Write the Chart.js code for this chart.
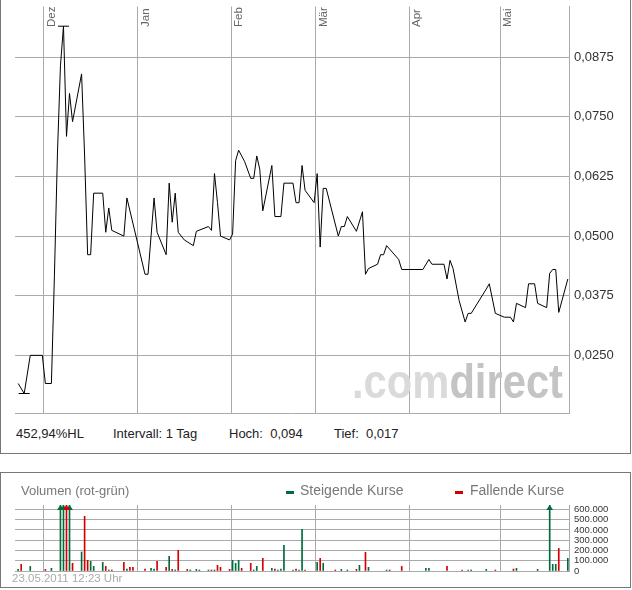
<!DOCTYPE html>
<html>
<head>
<meta charset="utf-8">
<script src="https://cdn.jsdelivr.net/npm/chart.js@4.4.0/dist/chart.umd.min.js"></script>
<style>
  body { margin: 0; background: #fff; font-family: 'Liberation Sans', Arial, sans-serif; }
  .box { position: absolute; left: 0; width: 629px; border: 1px solid #777; }
  canvas { position: absolute; left: 0; }
  .t { position: absolute; white-space: pre; line-height: 15px; font-size: 13px; }
  .lg { font-size: 14px; }
  .dash { position: absolute; width: 8px; height: 3px; }
</style>
</head>
<body>
<div class="box" style="top:-1px;height:453px"></div>
<div class="box" style="top:472px;height:114px"></div>

<canvas id="priceChart" width="630" height="420" style="top:0"></canvas>
<div class="t" id="hlText" style="left:16px;top:426px;color:#222"></div>
<div class="t" style="left:113px;top:426px;color:#222">Intervall: 1 Tag</div>
<div class="t" id="hochText" style="left:229px;top:426px;color:#222"></div>
<div class="t" id="tiefText" style="left:334px;top:426px;color:#222"></div>

<canvas id="volumeChart" width="630" height="113" style="top:473px"></canvas>
<div class="t" style="left:21px;top:483px;color:#777">Volumen (rot-grün)</div>
<div class="dash" style="left:286px;top:491px;background:#006b3c"></div>
<div class="t lg" style="left:300px;top:482.5px;color:#777">Steigende Kurse</div>
<div class="dash" style="left:455px;top:491px;background:#d40000"></div>
<div class="t lg" style="left:470px;top:482.5px;color:#777">Fallende Kurse</div>
<div class="t" style="left:12px;top:572px;font-size:11.5px;line-height:13px;color:#aaa">23.05.2011 12:23 Uhr</div>

<script>
// daily closing prices
const priceDates = [
  '2010-11-22','2010-11-24','2010-11-26','2010-11-30','2010-12-01','2010-12-03','2010-12-04','2010-12-05','2010-12-06','2010-12-07',
  '2010-12-08','2010-12-09','2010-12-10','2010-12-13','2010-12-14','2010-12-15','2010-12-16','2010-12-17','2010-12-20','2010-12-21',
  '2010-12-22','2010-12-23','2010-12-27','2010-12-28','2011-01-03','2011-01-04','2011-01-06','2011-01-07','2011-01-10','2011-01-11',
  '2011-01-12','2011-01-13','2011-01-14','2011-01-16','2011-01-19','2011-01-20','2011-01-24','2011-01-25','2011-01-26','2011-01-27',
  '2011-01-28','2011-01-31','2011-02-01','2011-02-02','2011-02-03','2011-02-05','2011-02-07','2011-02-08','2011-02-09','2011-02-10',
  '2011-02-11','2011-02-14','2011-02-15','2011-02-17','2011-02-18','2011-02-21','2011-02-22','2011-02-23','2011-02-24','2011-02-25',
  '2011-02-28','2011-03-01','2011-03-02','2011-03-03','2011-03-04','2011-03-08','2011-03-09','2011-03-10','2011-03-11','2011-03-14',
  '2011-03-16','2011-03-17','2011-03-18','2011-03-21','2011-03-22','2011-03-23','2011-03-24','2011-03-28','2011-03-29','2011-04-05',
  '2011-04-07','2011-04-08','2011-04-12','2011-04-13','2011-04-14','2011-04-15','2011-04-17','2011-04-19','2011-04-20','2011-04-21',
  '2011-04-26','2011-04-27','2011-04-29','2011-05-02','2011-05-04','2011-05-05','2011-05-06','2011-05-09','2011-05-10','2011-05-12',
  '2011-05-13','2011-05-16','2011-05-17','2011-05-18','2011-05-19','2011-05-20','2011-05-23'
];
const priceValues = [
  0.0191,0.0170,0.0250,0.0250,0.0191,0.0191,0.0416,0.0672,0.0857,0.0940,
  0.0709,0.0799,0.0740,0.0840,0.0668,0.0461,0.0461,0.0590,0.0590,0.0508,
  0.0559,0.0512,0.0500,0.0580,0.0420,0.0420,0.0580,0.0508,0.0461,0.0611,
  0.0529,0.0590,0.0508,0.0492,0.0480,0.0510,0.0520,0.0512,0.0631,0.0570,
  0.0500,0.0492,0.0504,0.0658,0.0680,0.0656,0.0621,0.0621,0.0668,0.0640,
  0.0553,0.0648,0.0541,0.0541,0.0611,0.0611,0.0570,0.0570,0.0648,0.0596,
  0.0570,0.0631,0.0477,0.0600,0.0600,0.0500,0.0520,0.0520,0.0541,0.0510,
  0.0551,0.0420,0.0432,0.0441,0.0461,0.0461,0.0480,0.0451,0.0430,0.0430,
  0.0451,0.0441,0.0441,0.0410,0.0449,0.0432,0.0365,0.0320,0.0338,0.0338,
  0.0389,0.0400,0.0338,0.0330,0.0330,0.0320,0.0359,0.0350,0.0400,0.0400,
  0.0359,0.0350,0.0422,0.0430,0.0430,0.0340,0.0410
];

// volume on rising days (green) and falling days (red)
const upDates = [
  '2010-11-22','2010-11-26','2010-12-03','2010-12-06','2010-12-07','2010-12-09','2010-12-13','2010-12-16','2010-12-17','2010-12-20',
  '2010-12-22','2010-12-28','2011-01-05','2011-01-06','2011-01-11','2011-01-13','2011-01-18','2011-01-20','2011-01-21','2011-01-24',
  '2011-01-26','2011-02-01','2011-02-02','2011-02-03','2011-02-08','2011-02-09','2011-02-14','2011-02-16','2011-02-17','2011-02-18',
  '2011-02-21','2011-02-23','2011-02-24','2011-03-01','2011-03-03','2011-03-09','2011-03-11','2011-03-15','2011-03-18','2011-03-24',
  '2011-04-06','2011-04-07','2011-04-20','2011-04-21','2011-04-26','2011-05-06','2011-05-13','2011-05-17','2011-05-18','2011-05-19',
  '2011-05-23'
];
const upVolumes = [
  16000,45000,26000,1100000,1400000,900000,185000,94000,45000,84000,
  10000,19000,26000,19000,143000,10000,10000,16000,10000,10000,
  10000,104000,75000,104000,10000,45000,26000,10000,19000,250000,
  10000,10000,405000,84000,75000,16000,10000,55000,36000,10000,
  26000,26000,10000,10000,16000,26000,16000,800000,65000,65000,
  123000
];
const downDates = [
  '2010-11-23','2010-12-01','2010-12-08','2010-12-10','2010-12-14','2010-12-15','2010-12-21','2010-12-23','2010-12-27','2010-12-29',
  '2010-12-30','2011-01-03','2011-01-07','2011-01-10','2011-01-12','2011-01-14','2011-01-17','2011-01-25','2011-01-27','2011-01-28',
  '2011-01-31','2011-02-04','2011-02-07','2011-02-11','2011-02-15','2011-02-22','2011-02-25','2011-03-02','2011-03-07','2011-03-14',
  '2011-03-17','2011-03-25','2011-03-29','2011-04-13','2011-04-18','2011-04-29','2011-05-05','2011-05-20'
];
const downVolumes = [
  65000,16000,1000000,75000,532000,104000,45000,10000,84000,36000,
  36000,19000,94000,36000,16000,201000,16000,10000,55000,36000,
  16000,26000,75000,123000,19000,19000,10000,123000,10000,16000,
  182000,10000,45000,45000,10000,10000,19000,220000
];

const monthStarts = ['2010-12-01','2011-01-01','2011-02-01','2011-03-01','2011-04-01','2011-05-01'];
const monthLabels = ['Dez','Jan','Feb','Mär','Apr','Mai'];
const priceTicks = [0.025, 0.0375, 0.05, 0.0625, 0.075, 0.0875];
const volumeTicks = [0, 100000, 200000, 300000, 400000, 500000, 600000];

const FONT = "'Liberation Sans', Arial, sans-serif";
const GRID = '#aaaaaa';
const GREEN = '#006b3c';
const RED = '#d40000';
const X_MIN = -9.6, X_MAX = 173.84;

const origin = Date.UTC(2010, 11, 1);
function dayOf(iso) {
  const p = iso.split('-').map(Number);
  return (Date.UTC(p[0], p[1] - 1, p[2]) - origin) / 864e5;
}
const fmtPrice = v => v.toFixed(4).replace('.', ',');
const fmtVolume = v => String(v).replace(/\B(?=(\d{3})+(?!\d))/g, '.');

// info line from the data
const hi = Math.max(...priceValues), lo = Math.min(...priceValues);
document.getElementById('hlText').textContent = ((hi - lo) / lo * 100).toFixed(2).replace('.', ',') + '%HL';
document.getElementById('hochText').textContent = 'Hoch:  ' + hi.toFixed(3).replace('.', ',');
document.getElementById('tiefText').textContent = 'Tief:  ' + lo.toFixed(3).replace('.', ',');

Chart.defaults.font.family = FONT;
Chart.defaults.animation = false;

function xAxis() {
  return {
    type: 'linear', min: X_MIN, max: X_MAX, offset: false,
    afterBuildTicks: s => { s.ticks = monthStarts.map(m => ({ value: dayOf(m) })); },
    afterFit: s => { s.height = 0; s.paddingLeft = 0; s.paddingRight = 0; },
    ticks: { display: false },
    grid: { color: GRID, drawTicks: false, offset: false },
    border: { color: GRID }
  };
}

const monthPlugin = {
  id: 'months',
  afterDatasetsDraw(chart) {
    const { ctx, chartArea, scales: { x } } = chart;
    ctx.save();
    ctx.font = '11.5px ' + FONT;
    ctx.fillStyle = '#666';
    monthStarts.forEach((m, i) => {
      const px = x.getPixelForValue(dayOf(m));
      ctx.save();
      ctx.translate(px + 11, chartArea.top + 20.5);
      ctx.rotate(-Math.PI / 2);
      ctx.fillText(monthLabels[i], 0, 0);
      ctx.restore();
    });
    ctx.restore();
  }
};

const brandPlugin = {
  id: 'brand',
  beforeDatasetsDraw(chart) {
    const { ctx, chartArea } = chart;
    ctx.save();
    ctx.font = 'bold 48px ' + FONT;
    const a = '.com', b = 'direct';
    const wa = ctx.measureText(a).width, wb = ctx.measureText(b).width;
    ctx.translate(chartArea.right - 6 - 211, chartArea.bottom - 16);
    ctx.scale(211 / (wa + wb), 1);
    ctx.fillStyle = '#dadada';
    ctx.fillText(a, 0, 0);
    ctx.fillStyle = '#c4c4c4';
    ctx.fillText(b, wa, 0);
    ctx.restore();
  }
};

const pricePoints = priceDates.map((d, i) => ({ x: dayOf(d) + 0.45, y: priceValues[i] }));
const extremes = [pricePoints[priceValues.indexOf(hi)], pricePoints[priceValues.indexOf(lo)]];

new Chart(document.getElementById('priceChart'), {
  type: 'line',
  data: {
    datasets: [
      { data: pricePoints, borderColor: '#000', borderWidth: 1, pointRadius: 0, tension: 0 },
      { data: extremes, showLine: false, pointStyle: 'line', pointRadius: 5.5,
        pointBorderColor: '#000', pointBorderWidth: 1 }
    ]
  },
  options: {
    responsive: false,
    devicePixelRatio: 1,
    events: [],
    layout: { padding: { left: 15, right: 0, top: 0, bottom: 5 } },
    plugins: { legend: { display: false }, tooltip: { enabled: false } },
    scales: {
      x: xAxis(),
      y: {
        position: 'right', min: 0.01281, max: 0.09813,
        afterBuildTicks: s => { s.ticks = priceTicks.map(v => ({ value: v })); },
        afterFit: s => { s.width = 61; s.paddingTop = 0; s.paddingBottom = 0; },
        ticks: { padding: 5, autoSkip: false, color: '#333', font: { size: 13 }, callback: v => fmtPrice(v) },
        grid: { color: GRID, drawTicks: false },
        border: { color: GRID }
      }
    }
  },
  plugins: [brandPlugin, monthPlugin]
});

const arrowPlugin = {
  id: 'arrows',
  afterDatasetsDraw(chart) {
    const { ctx, chartArea, scales: { x, y } } = chart;
    ctx.save();
    chart.data.datasets.forEach(ds => {
      ctx.fillStyle = ds.backgroundColor;
      ds.data.forEach(p => {
        if (p.y <= y.max) return;
        const px = x.getPixelForValue(p.x);
        ctx.beginPath();
        ctx.moveTo(px, chartArea.top);
        ctx.lineTo(px + 3.5, chartArea.top + 5);
        ctx.lineTo(px - 3.5, chartArea.top + 5);
        ctx.closePath();
        ctx.fill();
      });
    });
    ctx.restore();
  }
};

new Chart(document.getElementById('volumeChart'), {
  type: 'bar',
  data: {
    datasets: [
      { label: 'Steigende Kurse', data: upDates.map((d, i) => ({ x: dayOf(d) + 0.45, y: upVolumes[i] })),
        backgroundColor: GREEN, barThickness: 1, grouped: false },
      { label: 'Fallende Kurse', data: downDates.map((d, i) => ({ x: dayOf(d) + 0.45, y: downVolumes[i] })),
        backgroundColor: RED, barThickness: 1, grouped: false }
    ]
  },
  options: {
    responsive: false,
    devicePixelRatio: 1,
    events: [],
    layout: { padding: { left: 15, right: 0, top: 32, bottom: 15 } },
    plugins: { legend: { display: false }, tooltip: { enabled: false } },
    scales: {
      x: xAxis(),
      y: {
        position: 'right', min: 0, max: 642000,
        afterBuildTicks: s => { s.ticks = volumeTicks.map(v => ({ value: v })); },
        afterFit: s => { s.width = 61; s.paddingTop = 0; s.paddingBottom = 0; },
        ticks: { padding: 5, autoSkip: false, color: '#333', font: { size: 9.5 }, callback: v => fmtVolume(v) },
        grid: { color: GRID, drawTicks: false },
        border: { color: GRID }
      }
    }
  },
  plugins: [arrowPlugin]
});
</script>
</body>
</html>
